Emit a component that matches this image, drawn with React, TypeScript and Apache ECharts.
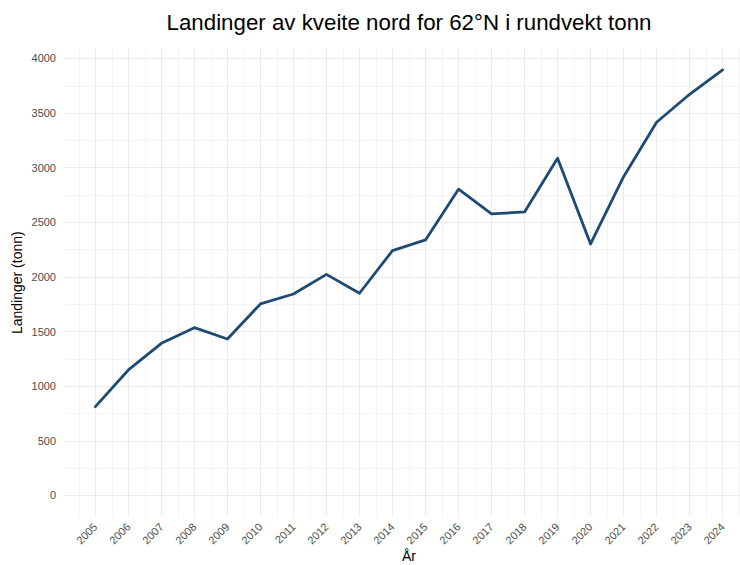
import React, { useEffect, useRef } from "react";
import * as echarts from "echarts";

const chartTitle = "Landinger av kveite nord for 62°N i rundvekt tonn";
const xTitle = "År";
const yTitle = "Landinger (tonn)";

const years = [2005, 2006, 2007, 2008, 2009, 2010, 2011, 2012, 2013, 2014, 2015, 2016, 2017, 2018, 2019, 2020, 2021, 2022, 2023, 2024];
const landings = [813, 1149, 1393, 1536, 1432, 1753, 1844, 2024, 1851, 2241, 2339, 2803, 2577, 2595, 3086, 2302, 2918, 3416, 3672, 3895];

const yTicks = [0, 500, 1000, 1500, 2000, 2500, 3000, 3500, 4000];
const yMinorGrid = [250, 750, 1250, 1750, 2250, 2750, 3250, 3750];
const xMinorGrid = [2004.5, 2005.5, 2006.5, 2007.5, 2008.5, 2009.5, 2010.5, 2011.5, 2012.5, 2013.5, 2014.5, 2015.5, 2016.5, 2017.5, 2018.5, 2019.5, 2020.5, 2021.5, 2022.5, 2023.5, 2024.5];

const FONT = "Liberation Sans, Arial, Helvetica, sans-serif";
const GRID = "#EBEBEB";

export default function App() {
  const ref = useRef<HTMLDivElement>(null);

  useEffect(() => {
    if (!ref.current) return;
    const chart = echarts.init(ref.current, null, { renderer: "svg" });

    const major = { width: 1.1, color: GRID, type: "solid" };
    const minor = { width: 0.55, color: GRID, type: "solid" };
    const gridLines: any[] = [
      ...yMinorGrid.map((v) => ({ yAxis: v, lineStyle: minor })),
      ...xMinorGrid.map((v) => ({ xAxis: v, lineStyle: minor })),
      ...yTicks.map((v) => ({ yAxis: v, lineStyle: major })),
      ...years.map((v) => ({ xAxis: v, lineStyle: major })),
    ];

    chart.setOption({
      animation: false,
      backgroundColor: "#FFFFFF",
      textStyle: { fontFamily: FONT },
      graphic: [
        {
          type: "text",
          x: 409,
          y: 22,
          style: {
            text: chartTitle,
            fill: "#000000",
            fontSize: 22.3,
            fontFamily: FONT,
            align: "center",
            verticalAlign: "middle",
          },
        },
      ],
      grid: {
        left: 64,
        right: -14,
        top: 48.6,
        bottom: 48.2,
        containLabel: false,
        outerBoundsMode: "none",
      },
      xAxis: {
        type: "value",
        min: 2004.05,
        max: 2024.95,
        name: xTitle,
        nameLocation: "middle",
        nameGap: 32,
        nameMoveOverlap: false,
        nameTextStyle: { fontSize: 14, color: "#000000", fontFamily: FONT },
        axisLine: { show: false },
        axisTick: { show: false },
        splitLine: { show: false },
        axisLabel: {
          customValues: years,
          formatter: (v: number) => String(v),
          rotate: 45,
          margin: 8,
          fontSize: 11,
          color: "#4D4D4D",
          fontFamily: FONT,
          showMinLabel: true,
          showMaxLabel: true,
        },
      },
      yAxis: {
        type: "value",
        min: -195,
        max: 4090,
        name: yTitle,
        nameLocation: "middle",
        nameGap: 40,
        nameMoveOverlap: false,
        nameTextStyle: { fontSize: 14, color: "#000000", fontFamily: FONT },
        axisLine: { show: false },
        axisTick: { show: false },
        splitLine: { show: false },
        axisLabel: {
          customValues: yTicks,
          formatter: (v: number) => String(v),
          margin: 8,
          fontSize: 11,
          color: "#4D4D4D",
          fontFamily: FONT,
        },
      },
      series: [
        {
          type: "line",
          z: 1,
          data: [],
          silent: true,
          markLine: {
            silent: true,
            symbol: ["none", "none"],
            label: { show: false },
            emphasis: { disabled: true },
            animation: false,
            data: gridLines,
          },
        },
        {
          type: "line",
          z: 5,
          data: years.map((y, i) => [y, landings[i]]),
          showSymbol: false,
          symbol: "none",
          lineStyle: { color: "#1F4A73", width: 2.8, join: "round", cap: "round" },
        },
      ],
    });

    return () => chart.dispose();
  }, []);

  return <div ref={ref} style={{ position: "fixed", left: 0, top: 0, width: 740, height: 565 }} />;
}
